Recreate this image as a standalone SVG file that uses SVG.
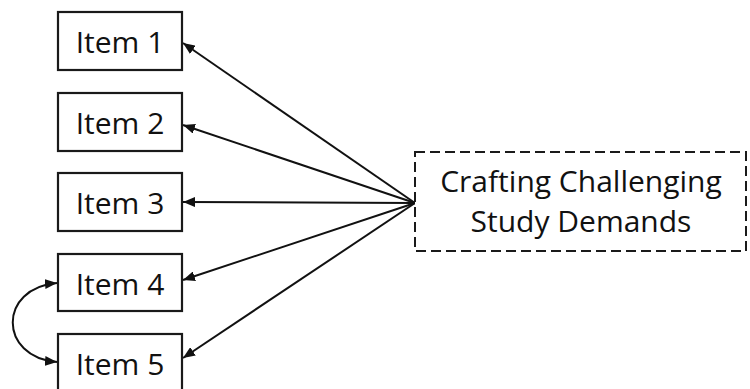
<svg xmlns="http://www.w3.org/2000/svg" width="750" height="389" viewBox="0 0 750 389">
<style>
.box{fill:#fff;stroke:#1a1a1a;stroke-width:2.2}
.dash{fill:#fff;stroke:#1a1a1a;stroke-width:2;stroke-dasharray:10 5}
.lbl{font-family:"Open Sans","Noto Sans",sans-serif;font-size:30px;fill:#111;text-anchor:middle}
.edge{fill:none;stroke:#111;stroke-width:2}
</style>
<defs>
<marker id="ah" viewBox="0 0 12 10" refX="12" refY="5" markerWidth="12" markerHeight="10" markerUnits="userSpaceOnUse" orient="auto-start-reverse">
<path d="M0,0 L12,5 L0,10 Z" fill="#111"/>
</marker>
</defs>
<rect width="750" height="389" fill="#fff"/>
<g id="connectors">
<line class="edge" x1="415" y1="203" x2="183" y2="43" marker-end="url(#ah)"/>
<line class="edge" x1="415" y1="203" x2="183" y2="125" marker-end="url(#ah)"/>
<line class="edge" x1="415" y1="203" x2="183" y2="202" marker-end="url(#ah)"/>
<line class="edge" x1="415" y1="203" x2="183" y2="280" marker-end="url(#ah)"/>
<line class="edge" x1="415" y1="203" x2="183" y2="358" marker-end="url(#ah)"/>
<path class="edge" d="M57,283 C-2,288 -2,357 57,362" marker-start="url(#ah)" marker-end="url(#ah)"/>
</g>
<g id="item1"><rect class="box" x="58" y="12" width="124" height="58"/><text class="lbl" x="120" y="53">Item 1</text></g>
<g id="item2"><rect class="box" x="58" y="93" width="124" height="58"/><text class="lbl" x="120" y="134">Item 2</text></g>
<g id="item3"><rect class="box" x="58" y="173" width="124" height="58"/><text class="lbl" x="120" y="214">Item 3</text></g>
<g id="item4"><rect class="box" x="58" y="254" width="124" height="57"/><text class="lbl" x="120" y="295">Item 4</text></g>
<g id="item5"><rect class="box" x="58" y="334" width="124" height="58"/><text class="lbl" x="120" y="375">Item 5</text></g>
<g id="factor"><rect class="dash" x="415" y="152" width="331" height="99"/><text class="lbl" x="581" y="192">Crafting Challenging</text><text class="lbl" x="581" y="232">Study Demands</text></g>
</svg>
